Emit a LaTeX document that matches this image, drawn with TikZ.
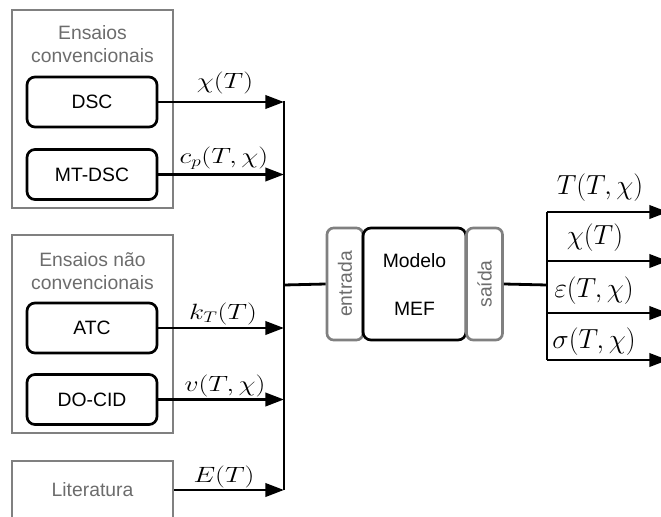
\documentclass[tikz,border=0pt]{standalone}
\usepackage{fontspec}
\setmainfont{Liberation Sans}
\usepackage{graphicx}
\usepackage{xcolor}
\usetikzlibrary{arrows.meta}

\definecolor{cinza}{RGB}{128,128,128}
\definecolor{cinzatxt}{RGB}{108,108,108}
\newcommand{\fonte}{\fontsize{14.5}{17}\selectfont}
\newcommand{\fontemat}{\fontsize{20}{24}\selectfont}
\newcommand{\rotin}[1]{\scalebox{1}[0.8]{$#1$}}

\begin{document}
\begin{tikzpicture}[x=0.75pt,y=0.75pt,yscale=-1,xscale=1,
  grupo/.style={draw=cinza, line width=2pt},
  titulo/.style={text=cinzatxt, font=\fonte, align=center, inner sep=0.75pt},
  ensaio/.style={draw, line width=2pt, rounded corners=6pt, minimum width=97.5pt, minimum height=37.5pt, font=\fonte},
  porta/.style={draw=cinza, line width=2pt, rounded corners=5pt, minimum width=84pt, minimum height=27pt, text=cinzatxt, font=\fonte, inner sep=0pt, rotate=90},
  seta/.style={line width=2.1pt, -{Triangle[length=14pt,width=10pt]}},
  fio/.style={line width=2.1pt},
  rot/.style={font=\fontemat, inner sep=0.75pt}]
\useasboundingbox (0,0) rectangle (661,517);

%Shape: Rectangle [ensaios convencionais]
\draw [grupo] (12,10) rectangle (173,208) ;
\node [titulo] (tconv) at (92.5,44) {Ensaios\\convencionais};
\node [ensaio] (dsc) at (92,102) {DSC};
\node [ensaio] (mtdsc) at (92,174.5) {MT-DSC};

%Shape: Rectangle [ensaios nao convencionais]
\draw [grupo] (12,235) rectangle (173,433) ;
\node [titulo] (tnconv) at (92.5,271) {Ensaios não\\convencionais};
\node [ensaio] (atc) at (92,328) {ATC};
\node [ensaio] (docid) at (92,399.5) {DO-CID};

%Shape: Rectangle [literatura]
\node [grupo, titulo, minimum width=120.75pt, minimum height=43.5pt] (lit) at (92.5,490) {Literatura};

%Straight Lines [barramento de entrada]
\coordinate (barra) at (284,101) ;
\coordinate (barraB) at (284,490) ;
\coordinate (juncao) at (284,285) ;
\draw [fio] (barra) -- (barraB) ;
\draw [seta] (dsc.east) -- (dsc.east -| barra) ;
\draw [seta] (mtdsc.east) -- (mtdsc.east -| barra) ;
\draw [seta] (atc.east) -- (atc.east -| barra) ;
\draw [seta] (docid.east) -- (docid.east -| barra) ;
\draw [seta] (lit.east) -- (lit.east -| barra) ;

%Shape: Rectangle [modelo]
\node [porta] (entrada) at (345,284) {entrada};
\node [ensaio, minimum width=77.25pt, minimum height=84pt, align=center] (mef) at (414.5,284) {Modelo\\[19pt]MEF};
\node [porta] (saida) at (484.5,284) {saída};
\draw [fio] (juncao) -- (entrada.north) ;

%Straight Lines [saidas]
\coordinate (ramo) at (547,285) ;
\draw [fio] (saida.south) -- (ramo) ;
\draw [fio] (547,212) -- (547,360) ;
\foreach \y [count=\i] in {212,261,313,360} {
  \coordinate (s\i) at (668,\y) ;
  \draw [seta] (547,\y) -- (s\i) ;
}

% Text Node
\node [rot] (lchi) at (225,83) {\rotin{\chi(T)}};
% Text Node
\node [rot] (lcp) at (224,158) {\rotin{c_{p}(T,\chi)}};
% Text Node
\node [rot] (lkt) at (223,314) {\rotin{k_{T}(T)}};
% Text Node
\node [rot] (lv) at (225,386) {\rotin{v(T,\chi)}};
% Text Node
\node [rot] (le) at (224,477) {\rotin{E(T)}};
% Text Node
\node [rot] (ot) at (600,188) {$T(T,\chi)$};
% Text Node
\node [rot] (ochi) at (595,238) {$\chi(T)$};
% Text Node
\node [rot] (oeps) at (594,291) {$\varepsilon(T,\chi)$};
% Text Node
\node [rot] (osig) at (594,342) {$\sigma(T,\chi)$};

\end{tikzpicture}
\end{document}
